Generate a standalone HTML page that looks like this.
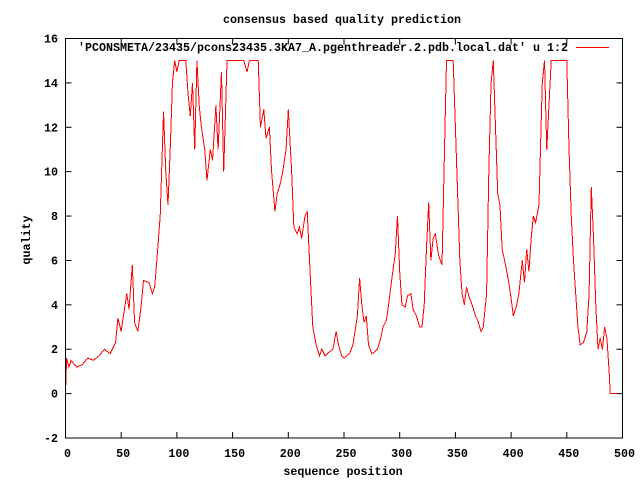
<!DOCTYPE html>
<html><head><meta charset="utf-8"><style>
html,body{margin:0;padding:0;background:#fff;}
svg text{font-family:"Liberation Mono",monospace;font-weight:bold;font-size:11.7px;fill:#000;}
</style></head><body>
<svg id="chart" width="640" height="480" xmlns="http://www.w3.org/2000/svg">
<text x="342" y="23" text-anchor="middle" textLength="238" lengthAdjust="spacingAndGlyphs">consensus based quality prediction</text>
<text transform="translate(30,240) rotate(-90)" text-anchor="middle">quality</text>
<text x="343" y="475" text-anchor="middle">sequence position</text>
<g id="axes"></g>
<g id="series"></g>
<rect x="65.5" y="38.5" width="557" height="399.5" fill="none" stroke="#000" stroke-width="1"/>
<text x="78" y="51" textLength="490" lengthAdjust="spacingAndGlyphs">'PCONSMETA/23435/pcons23435.3KA7_A.pgenthreader.2.pdb.local.dat' u 1:2</text>
<line x1="576" y1="47.5" x2="609" y2="47.5" stroke="#f00" stroke-width="1"/>
</svg>
<script>
const xTicks=[0,50,100,150,200,250,300,350,400,450,500];
const yTicks=[-2,0,2,4,6,8,10,12,14,16];
const positions=[0,1,3,5,10,15,20,25,30,35,40,45,47,50,52,55,57,60,62,65,68,70,75,78,80,82,85,88,90,92,94,96,98,100,102,105,108,110,112,114,116,118,120,122,125,127,130,132,135,137,140,142,145,150,155,160,163,165,170,173,175,178,180,183,185,188,190,193,195,198,200,203,205,208,210,212,215,217,220,222,225,228,230,233,235,240,243,245,248,250,255,258,262,264,266,268,270,272,275,278,280,283,285,288,290,293,296,298,300,302,305,307,310,312,315,318,320,322,324,326,328,330,332,335,338,340,342,345,348,350,352,354,356,358,360,362,365,368,370,373,375,378,380,382,384,386,388,390,392,395,398,400,402,405,407,410,412,414,416,418,420,422,425,428,430,432,434,436,440,445,450,452,454,456,458,460,462,465,468,470,472,474,476,478,480,482,484,486,488,489,495];
const quality=[0,1.6,1.2,1.5,1.2,1.3,1.6,1.5,1.7,2.0,1.8,2.3,3.4,2.8,3.5,4.5,3.8,5.8,3.2,2.8,4.0,5.1,5.0,4.5,4.8,6.0,8.0,12.7,10,8.5,11,14,15,14.5,15,15,15,13.5,12.5,14,11,15,13,12,11,9.6,11,10.5,13,11,14.5,10,15,15,15,15,14.5,15,15,15,12,12.8,11.5,12,10,8.2,9,9.5,10,11,12.8,10,7.5,7.2,7.5,7.0,8.0,8.2,5,3,2.2,1.7,2.0,1.7,1.8,2,2.8,2.2,1.7,1.6,1.8,2.2,3.5,5.2,4.0,3.2,3.5,2.2,1.8,1.9,2.0,2.5,3.0,3.3,4,5.2,6.3,8.0,5.5,4.0,3.9,4.4,4.5,3.8,3.5,3.0,3.0,4.0,6.5,8.6,6.0,7.0,7.2,6.2,5.8,10.5,15,15,15,12,9,6,4.5,4.0,4.8,4.4,4.0,3.5,3.3,2.8,3.0,4.5,10,14,15,12,9,8.5,6.5,5.8,5.0,4.3,3.5,4.0,4.5,6.0,5.0,6.5,5.5,7.0,8.0,7.7,8.5,14,15,11,13,15,15,15,15,11,8,6,4.5,3.0,2.2,2.3,2.8,4.5,9.3,7,4,2.0,2.5,2.0,3.0,2.5,1.0,0,0];
const L=65.5,R=622.5,T=38.5,B=438,xmin=0,xmax=500,ymin=-2,ymax=16;
const sx=v=>L+(v-xmin)/(xmax-xmin)*(R-L);
const sy=v=>B-(v-ymin)/(ymax-ymin)*(B-T);
const NS="http://www.w3.org/2000/svg";
const axes=document.getElementById('axes');
xTicks.forEach(t=>{
  const x=sx(t);
  for(const [y1,y2] of [[B,B-6],[T,T+6]]){
    const l=document.createElementNS(NS,'line');
    
    
    l.setAttribute('x1',x);l.setAttribute('x2',x);l.setAttribute('y1',y1);l.setAttribute('y2',y2);
    l.setAttribute('stroke','#000');axes.appendChild(l);
  }
  const tx=document.createElementNS(NS,'text');
  
  
  tx.setAttribute('x',x+2);tx.setAttribute('y',457);tx.setAttribute('text-anchor','middle');
  tx.textContent=t;axes.appendChild(tx);
});
yTicks.forEach(t=>{
  const y=sy(t);
  for(const [x1,x2] of [[L,L+6],[R,R-6]]){
    const l=document.createElementNS(NS,'line');
    
    
    l.setAttribute('x1',x1);l.setAttribute('x2',x2);l.setAttribute('y1',y);l.setAttribute('y2',y);
    l.setAttribute('stroke','#000');axes.appendChild(l);
  }
  const tx=document.createElementNS(NS,'text');
  
  
  tx.setAttribute('x',58);tx.setAttribute('y',y+4);tx.setAttribute('text-anchor','end');
  tx.textContent=t;axes.appendChild(tx);
});
const pl=document.createElementNS(NS,'polyline');


pl.setAttribute('points',positions.map((p,i)=>sx(p)+','+sy(quality[i])).join(' '));
pl.setAttribute('fill','none');pl.setAttribute('stroke','#f00');pl.setAttribute('stroke-width','1');
pl.setAttribute('shape-rendering','crispEdges');
document.getElementById('series').appendChild(pl);
</script>
</body></html>
